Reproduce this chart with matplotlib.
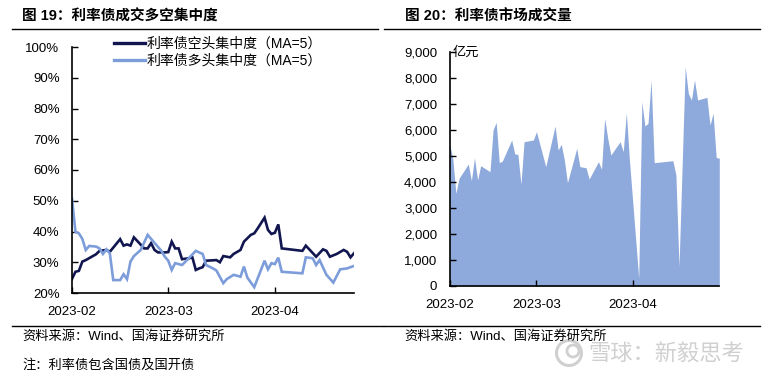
import matplotlib
matplotlib.use("Agg")
import matplotlib.pyplot as plt
import matplotlib.dates as mdates
from matplotlib.lines import Line2D
from matplotlib.patches import Circle
from matplotlib.ticker import FuncFormatter
import numpy as np

# ---------------- data ----------------
short_dates = ["2023-02-01", "2023-02-02", "2023-02-03", "2023-02-04", "2023-02-05", "2023-02-08",
               "2023-02-09", "2023-02-11", "2023-02-12", "2023-02-15", "2023-02-16", "2023-02-17",
               "2023-02-18", "2023-02-19", "2023-02-22", "2023-02-23", "2023-02-24", "2023-02-25",
               "2023-02-26", "2023-02-28", "2023-03-01", "2023-03-02", "2023-03-03", "2023-03-04",
               "2023-03-05", "2023-03-07", "2023-03-08", "2023-03-09", "2023-03-10", "2023-03-11",
               "2023-03-12", "2023-03-15", "2023-03-16", "2023-03-17", "2023-03-19", "2023-03-20",
               "2023-03-22", "2023-03-23", "2023-03-25", "2023-03-26", "2023-03-27", "2023-03-29",
               "2023-03-30", "2023-03-31", "2023-04-01", "2023-04-02", "2023-04-03", "2023-04-09",
               "2023-04-10", "2023-04-13", "2023-04-15", "2023-04-16", "2023-04-17", "2023-04-19",
               "2023-04-21", "2023-04-22", "2023-04-23", "2023-04-24"]
short_conc = [24.6, 26.9, 27.2, 30.2, 30.7, 32.6, 33.7, 34.0, 33.4, 37.5, 35.4, 35.8,
              35.4, 38.1, 34.5, 34.5, 36.2, 34.0, 33.2, 33.2, 33.3, 36.7, 34.5, 34.5,
              31.0, 31.3, 31.6, 27.5, 28.0, 28.4, 30.5, 30.7, 30.0, 32.0, 31.6, 32.7,
              34.0, 36.7, 38.9, 39.4, 41.0, 44.5, 40.5, 39.2, 39.6, 42.3, 34.5, 33.7,
              35.4, 31.8, 34.2, 33.7, 31.8, 32.7, 34.0, 33.4, 31.6, 32.9]

long_dates = ["2023-02-01", "2023-02-02", "2023-02-03", "2023-02-04", "2023-02-05", "2023-02-06",
              "2023-02-08", "2023-02-09", "2023-02-10", "2023-02-11", "2023-02-12", "2023-02-13",
              "2023-02-15", "2023-02-16", "2023-02-17", "2023-02-18", "2023-02-19", "2023-02-21",
              "2023-02-23", "2023-02-27", "2023-02-28", "2023-03-01", "2023-03-02", "2023-03-03",
              "2023-03-05", "2023-03-06", "2023-03-09", "2023-03-11", "2023-03-12", "2023-03-14",
              "2023-03-15", "2023-03-17", "2023-03-18", "2023-03-20", "2023-03-22", "2023-03-23",
              "2023-03-24", "2023-03-26", "2023-03-29", "2023-03-30", "2023-03-31", "2023-04-01",
              "2023-04-02", "2023-04-03", "2023-04-09", "2023-04-10", "2023-04-12", "2023-04-13",
              "2023-04-14", "2023-04-16", "2023-04-18", "2023-04-20", "2023-04-22", "2023-04-24"]
long_conc = [50.6, 39.9, 39.4, 37.6, 34.0, 35.3,
             35.1, 34.5, 32.7, 34.2, 32.9, 24.2,
             24.2, 26.1, 24.5, 30.2, 32.0, 34.0,
             38.9, 33.7, 31.8, 30.5, 27.5, 29.7,
             29.1, 30.2, 33.7, 32.7, 29.1, 28.0,
             27.3, 23.2, 24.5, 25.9, 25.3, 28.6,
             25.0, 21.9, 30.5, 27.7, 29.7, 29.4,
             31.5, 26.9, 26.4, 31.6, 31.3, 29.1,
             30.7, 25.9, 23.4, 27.7, 28.0, 28.8]

vol_dates = ["2023-02-01", "2023-02-02", "2023-02-03", "2023-02-04", "2023-02-07", "2023-02-08",
             "2023-02-09", "2023-02-10", "2023-02-11", "2023-02-14", "2023-02-15", "2023-02-16",
             "2023-02-17", "2023-02-18", "2023-02-21", "2023-02-22", "2023-02-23", "2023-02-24",
             "2023-02-25", "2023-02-28", "2023-03-01", "2023-03-04", "2023-03-07", "2023-03-08",
             "2023-03-09", "2023-03-10", "2023-03-11", "2023-03-14", "2023-03-15", "2023-03-17",
             "2023-03-18", "2023-03-21", "2023-03-22", "2023-03-23", "2023-03-24", "2023-03-25",
             "2023-03-28", "2023-03-29", "2023-03-30", "2023-03-31", "2023-04-03", "2023-04-04",
             "2023-04-05", "2023-04-06", "2023-04-07", "2023-04-08", "2023-04-14", "2023-04-15",
             "2023-04-16", "2023-04-18", "2023-04-19", "2023-04-20", "2023-04-21", "2023-04-22",
             "2023-04-25", "2023-04-26", "2023-04-27", "2023-04-28", "2023-04-29"]
vol_values = [5450, 4900, 3560, 4140, 4690, 4050,
              4935, 4077, 4627, 4396, 6000, 6296,
              4742, 4808, 5615, 5077, 5065, 3911,
              5550, 5615, 5935, 4590, 6154, 5230,
              5450, 4846, 3973, 5296, 4590, 4550,
              4115, 4781, 4488, 6450, 5680, 5038,
              5550, 5165, 6665, 4846, 296, 7090,
              6154, 6257, 7923, 4742, 4820, 4270,
              742, 8435, 7411, 7154, 7923, 7154,
              7257, 6192, 6642, 4950, 4910]

x_tick_labels = ["2023-02", "2023-03", "2023-04"]
x_tick_dates = ["2023-02-01", "2023-03-01", "2023-04-01"]
pct_ticks = [20, 30, 40, 50, 60, 70, 80, 90, 100]
vol_ticks = [0, 1000, 2000, 3000, 4000, 5000, 6000, 7000, 8000, 9000]

series_labels = ["利率债空头集中度（MA=5）", "利率债多头集中度（MA=5）"]

# ---------------- style ----------------
W, H = 767, 378
CJK = ["Noto Sans CJK SC"]
MIX = ["Liberation Sans", "Noto Sans CJK SC"]
plt.rcParams["font.family"] = MIX

DARK = "#111650"
LIGHT = "#7D9DDA"
AREA = "#8EA9DB"
WM = "#D0D0D0"

fig = plt.figure(figsize=(W / 100, H / 100), dpi=100)


def fx(px):
    return px / W


def fy(py):
    return 1 - py / H


def hline(x0, x1, y):
    fig.add_artist(Line2D([fx(x0), fx(x1)], [fy(y), fy(y)], color="black", lw=1.0))


# titles and rules
fig.text(fx(22), fy(16.5), "图 19：利率债成交多空集中度", family=MIX, fontsize=10.5,
         fontweight="bold", va="center", ha="left")
fig.text(fx(405), fy(16.5), "图 20：利率债市场成交量", family=MIX, fontsize=10.5,
         fontweight="bold", va="center", ha="left")
hline(12, 378, 29)
hline(384, 760, 29)
hline(12, 383, 325.7)
hline(384, 760, 325.7)
fig.text(fx(22), fy(336), "资料来源：Wind、国海证券研究所", family=MIX, fontsize=9.5,
         va="center", ha="left")
fig.text(fx(404), fy(336), "资料来源：Wind、国海证券研究所", family=MIX, fontsize=9.5,
         va="center", ha="left")
fig.text(fx(22), fy(365), "注：利率债包含国债及国开债", family=MIX, fontsize=9.5,
         va="center", ha="left")
# watermark
fig.text(fx(588), fy(353), "雪球：新毅思考", family=CJK, fontsize=16, color=WM,
         va="center", ha="left")
fig.add_artist(Circle((569 / 100, (H - 353) / 100), 0.125, transform=fig.dpi_scale_trans,
                      fill=False, ec=WM, lw=2.2))
fig.add_artist(Circle((573 / 100, (H - 351) / 100), 0.06, transform=fig.dpi_scale_trans,
                      fill=False, ec=WM, lw=2.0))

# ---------------- left chart ----------------
ax1 = fig.add_axes([fx(72), fy(293), (354.3 - 72) / W, (293 - 47) / H])
sd = mdates.datestr2num(short_dates)
ld = mdates.datestr2num(long_dates)
ax1.plot(sd, short_conc, color=DARK, lw=1.9, label=series_labels[0], solid_joinstyle="miter")
ax1.plot(ld, long_conc, color=LIGHT, lw=1.9, label=series_labels[1], solid_joinstyle="miter")
ax1.set_ylim(20, 100)
ax1.set_yticks(pct_ticks)
ax1.yaxis.set_major_formatter(FuncFormatter(lambda v, p: f"{v:.0f}%"))
xt = mdates.datestr2num(x_tick_dates)
ax1.set_xlim(xt[0], mdates.datestr2num("2023-04-24") + 0.1)
ax1.set_xticks(xt)
ax1.set_xticklabels(x_tick_labels)

leg = ax1.legend(loc="upper left", bbox_to_anchor=(fx(114), fy(37)), bbox_transform=fig.transFigure,
                 frameon=False, prop={"family": MIX, "size": 10}, handlelength=2.2,
                 handletextpad=0.15, labelspacing=0.2, borderpad=0, borderaxespad=0)
for l in leg.get_lines():
    l.set_linewidth(2.4)

# ---------------- right chart ----------------
ax2 = fig.add_axes([fx(449.7), fy(286), (719.3 - 449.7) / W, (286 - 52) / H])
vd = mdates.datestr2num(vol_dates)
ax2.fill_between(vd, 0, vol_values, color=AREA, lw=0)
ax2.set_ylim(0, 9000)
ax2.set_yticks(vol_ticks)
ax2.yaxis.set_major_formatter(FuncFormatter(lambda v, p: f"{v:,.0f}"))
ax2.set_xlim(xt[0], vd[-1])
ax2.set_xticks(xt)
ax2.set_xticklabels(x_tick_labels)
ax2.text(0.01, 1.0, "亿元", transform=ax2.transAxes, family=CJK, fontsize=9.5,
         va="center", ha="left")

for ax in (ax1, ax2):
    for s in ("top", "right"):
        ax.spines[s].set_visible(False)
    for s in ("left", "bottom"):
        ax.spines[s].set_linewidth(1.2)
        ax.spines[s].set_color("black")
    ax.tick_params(axis="both", direction="in", length=4, width=1.0, labelsize=9.5,
                   colors="black")
    ax.tick_params(axis="y", pad=9)
    ax.tick_params(axis="x", pad=9.5)
    for t in ax.get_xticklabels() + ax.get_yticklabels():
        t.set_family(MIX)
    ax.patch.set_alpha(0)

fig.savefig("out.png", dpi=100)
